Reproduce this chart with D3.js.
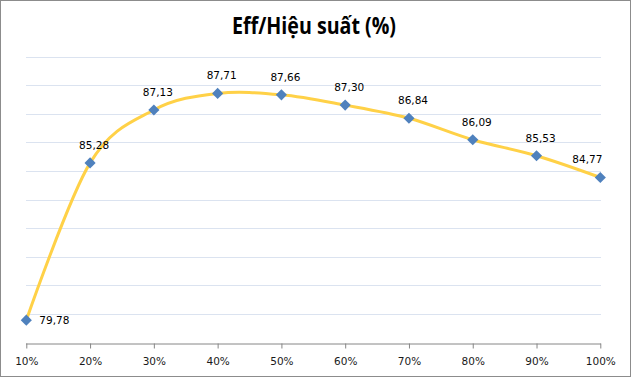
<!DOCTYPE html>
<html>
<head>
<meta charset="utf-8">
<script src="https://cdn.jsdelivr.net/npm/d3@7"></script>
<style>
  body { margin: 0; background: #fff; }
  svg { display: block; }
</style>
</head>
<body>
<svg id="chart"></svg>
<script>
var categories = ["10%", "20%", "30%", "40%", "50%", "60%", "70%", "80%", "90%", "100%"];
var efficiency = [79.78, 85.28, 87.13, 87.71, 87.66, 87.30, 86.84, 86.09, 85.53, 84.77];
var yTicks = [80, 81, 82, 83, 84, 85, 86, 87, 88, 89];

var width = 631,
    height = 377;

var chart = d3.select("#chart")
    .attr("width", width)
    .attr("height", height);

// outer frame
chart.append("rect")
    .attr("x", 0.5).attr("y", 0.5)
    .attr("width", width - 1).attr("height", height - 1)
    .attr("fill", "#fff")
    .attr("stroke", "#8c8c8c");

// title is a narrow face in the original, squeeze it a bit
chart.append("text")
    .attr("x", 314)
    .attr("y", 34)
    .attr("text-anchor", "middle")
    .attr("textLength", 164)
    .attr("lengthAdjust", "spacingAndGlyphs")
    .style("font-family", "'Open Sans', sans-serif")
    .style("font-weight", "bold")
    .style("font-size", "22.5px")
    .style("fill", "#000")
    .text("Eff/Hiệu suất (%)");

var x = d3.scalePoint()
    .domain(categories)
    .range([26.3, 600.3]);

var y = d3.scaleLinear()
    .domain([79, 89])
    .range([342.5, 56.5]);

// gridlines
chart.append("g")
    .selectAll("line")
    .data(yTicks)
    .enter().append("line")
    .attr("x1", 26).attr("x2", 601)
    .attr("y1", function(d) { return Math.round(y(d)) + 0.5; })
    .attr("y2", function(d) { return Math.round(y(d)) + 0.5; })
    .attr("stroke", "#dbe3f0")
    .attr("stroke-width", 1);

// x axis
var xAxis = chart.append("g")
    .attr("transform", "translate(0," + (Math.round(y(79)) + 0.5) + ")")
    .call(d3.axisBottom(x).tickSize(5).tickPadding(9).tickSizeOuter(0));

xAxis.select(".domain").attr("stroke", "#868686").attr("d", "M26,0.5H601");
xAxis.selectAll(".tick line").attr("stroke", "#868686");
xAxis.selectAll(".tick text")
    .style("font-family", "'DejaVu Sans', sans-serif")
    .style("font-size", "10.5px")
    .style("fill", "#1a1a1a");

var line = d3.line()
    .x(function(d, i) { return x(categories[i]); })
    .y(function(d) { return y(d); })
    .curve(d3.curveCardinal.tension(0));

chart.append("path")
    .datum(efficiency)
    .attr("d", line)
    .attr("fill", "none")
    .attr("stroke", "#ffd147")
    .attr("stroke-width", 3)
    .attr("stroke-linecap", "round");

var diamond = d3.symbol().type(d3.symbolSquare).size(62);

chart.append("g")
    .selectAll("path")
    .data(efficiency)
    .enter().append("path")
    .attr("d", diamond)
    .attr("transform", function(d, i) {
        return "translate(" + x(categories[i]) + "," + y(d) + ") rotate(45)";
    })
    .attr("fill", "#4f81bd");

function fmt(v) {
    return v.toFixed(2).replace(".", ",");
}

chart.append("g")
    .selectAll("text")
    .data(efficiency)
    .enter().append("text")
    .attr("x", function(d, i) {
        var px = x(categories[i]);
        if (i === 0) return px + 13;
        if (i === efficiency.length - 1) return px - 28;
        return px - 11;
    })
    .attr("y", function(d, i) {
        if (i === 0) return y(d) + 4;
        return y(d) - 14;
    })
    .style("font-family", "'DejaVu Sans', sans-serif")
    .style("font-size", "10.5px")
    .style("fill", "#000")
    .text(function(d) { return fmt(d); });
</script>
</body>
</html>
